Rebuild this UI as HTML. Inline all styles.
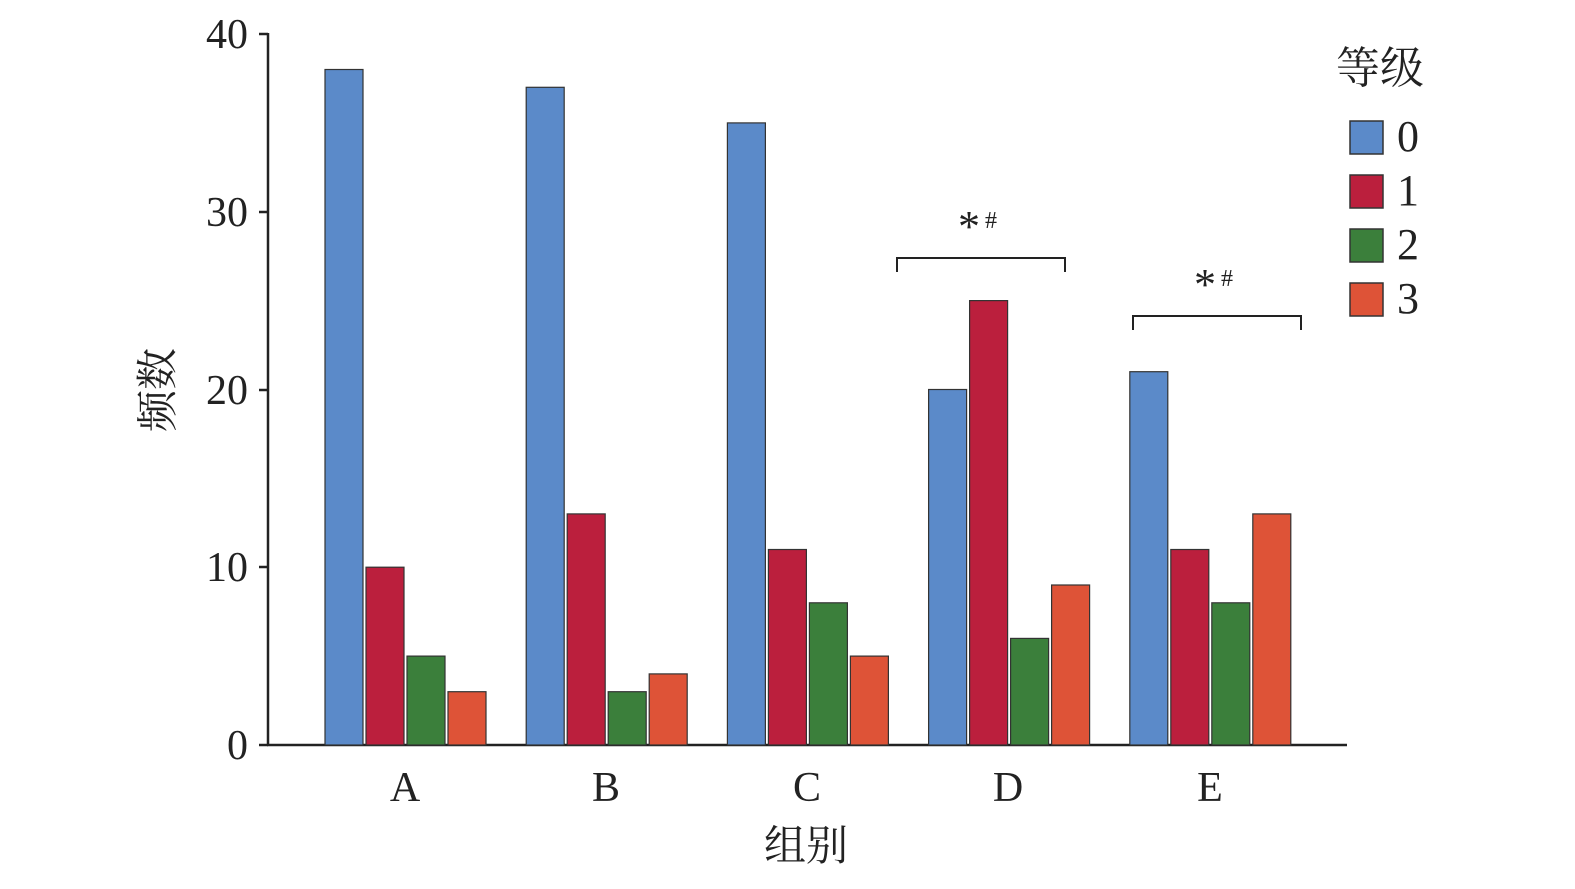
<!DOCTYPE html>
<html><head><meta charset="utf-8"><style>
html,body{margin:0;padding:0;background:#fff;}
svg text{font-family:"Liberation Serif","Noto Serif CJK SC",serif;fill:#222;}
</style></head><body>
<svg width="1575" height="884" xmlns="http://www.w3.org/2000/svg">
<g stroke="#222" stroke-width="2.5" fill="none">
<line x1="268" y1="33" x2="268" y2="746"/>
<line x1="267" y1="745" x2="1347" y2="745"/>
<line x1="259" y1="34" x2="268" y2="34"/>
<line x1="259" y1="212" x2="268" y2="212"/>
<line x1="259" y1="390" x2="268" y2="390"/>
<line x1="259" y1="567" x2="268" y2="567"/>
<line x1="259" y1="745" x2="268" y2="745"/>
</g>
<g font-size="42" text-anchor="end">
<text x="248" y="48">40</text>
<text x="248" y="226">30</text>
<text x="248" y="404">20</text>
<text x="248" y="581">10</text>
<text x="248" y="759">0</text>
</g>
<g font-size="42" text-anchor="middle">
<text x="405" y="801">A</text>
<text x="606" y="801">B</text>
<text x="807" y="801">C</text>
<text x="1008" y="801">D</text>
<text x="1210" y="801">E</text>
<text x="806" y="860">组别</text>
</g>
<text font-size="42" text-anchor="middle" transform="translate(172,390) rotate(-90)">频数</text>
<g stroke="#333" stroke-width="1.2">
<rect x="325" y="69.5" width="38" height="675.5" fill="#5b8ac9"/>
<rect x="366" y="567.2" width="38" height="177.8" fill="#bb1f3d"/>
<rect x="407" y="656.1" width="38" height="88.9" fill="#3b7f3b"/>
<rect x="448" y="691.7" width="38" height="53.3" fill="#de5337"/>

<rect x="526.2" y="87.3" width="38" height="657.7" fill="#5b8ac9"/>
<rect x="567.2" y="513.9" width="38" height="231.1" fill="#bb1f3d"/>
<rect x="608.2" y="691.7" width="38" height="53.3" fill="#3b7f3b"/>
<rect x="649.2" y="673.9" width="38" height="71.1" fill="#de5337"/>

<rect x="727.4" y="122.9" width="38" height="622.1" fill="#5b8ac9"/>
<rect x="768.4" y="549.5" width="38" height="195.5" fill="#bb1f3d"/>
<rect x="809.4" y="602.8" width="38" height="142.2" fill="#3b7f3b"/>
<rect x="850.4" y="656.1" width="38" height="88.9" fill="#de5337"/>

<rect x="928.6" y="389.5" width="38" height="355.5" fill="#5b8ac9"/>
<rect x="969.6" y="300.6" width="38" height="444.4" fill="#bb1f3d"/>
<rect x="1010.6" y="638.4" width="38" height="106.6" fill="#3b7f3b"/>
<rect x="1051.6" y="585" width="38" height="160" fill="#de5337"/>

<rect x="1129.8" y="371.7" width="38" height="373.3" fill="#5b8ac9"/>
<rect x="1170.8" y="549.5" width="38" height="195.5" fill="#bb1f3d"/>
<rect x="1211.8" y="602.8" width="38" height="142.2" fill="#3b7f3b"/>
<rect x="1252.8" y="513.9" width="38" height="231.1" fill="#de5337"/>
</g>
<g font-size="44"><text x="1336" y="83">等级</text></g>
<g stroke="#333" stroke-width="1.5">
<rect x="1350" y="121" width="33" height="33" fill="#5b8ac9"/>
<rect x="1350" y="175" width="33" height="33" fill="#bb1f3d"/>
<rect x="1350" y="229" width="33" height="33" fill="#3b7f3b"/>
<rect x="1350" y="283" width="33" height="33" fill="#de5337"/>
</g>
<g font-size="44">
<text x="1397" y="151">0</text>
<text x="1397" y="205">1</text>
<text x="1397" y="259">2</text>
<text x="1397" y="313">3</text>
</g>
<g stroke="#222" stroke-width="2" fill="none">
<polyline points="897,272 897,258 1065,258 1065,272"/>
<polyline points="1133,330 1133,316 1301,316 1301,330"/>
</g>
<text x="958" y="241" font-size="44">*</text><text x="985" y="228" font-size="24">#</text>
<text x="1194" y="299" font-size="44">*</text><text x="1221" y="286" font-size="24">#</text>
</svg>
</body></html>
